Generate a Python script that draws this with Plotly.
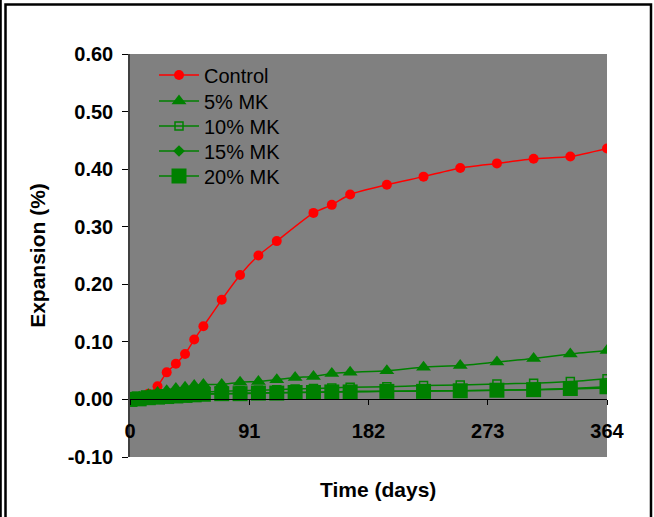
import plotly.graph_objects as go

# ---- data ----
t_control = [0, 7, 14, 21, 28, 35, 42, 49, 56, 70, 84, 98, 112, 140, 154, 168,
             196, 224, 252, 280, 308, 336, 364]
control = [0.000, 0.004, 0.010, 0.023, 0.047, 0.062, 0.079, 0.104, 0.127, 0.173,
           0.216, 0.250, 0.275, 0.324, 0.338, 0.356, 0.373, 0.387, 0.402, 0.410,
           0.418, 0.422, 0.436]

t_mk = [0, 7, 14, 21, 28, 35, 42, 49, 56, 70, 84, 98, 112, 126, 140, 154, 168,
        196, 224, 252, 280, 308, 336, 364]
mk5 = [0.000, 0.004, 0.008, 0.012, 0.015, 0.019, 0.021, 0.024, 0.026, 0.026,
       0.030, 0.031, 0.034, 0.038, 0.040, 0.045, 0.047, 0.050, 0.056, 0.059,
       0.065, 0.071, 0.079, 0.085]
mk10 = [0.000, 0.003, 0.005, 0.007, 0.008, 0.010, 0.011, 0.012, 0.013, 0.014,
        0.015, 0.016, 0.017, 0.018, 0.019, 0.020, 0.021, 0.022, 0.024, 0.025,
        0.027, 0.028, 0.031, 0.036]
mk15 = [0.000, 0.002, 0.004, 0.005, 0.006, 0.007, 0.008, 0.009, 0.010, 0.010,
        0.011, 0.011, 0.012, 0.012, 0.013, 0.013, 0.014, 0.014, 0.015, 0.015,
        0.016, 0.017, 0.018, 0.020]
mk20 = [0.000, 0.001, 0.003, 0.004, 0.005, 0.006, 0.007, 0.008, 0.009, 0.010,
        0.010, 0.011, 0.011, 0.012, 0.012, 0.013, 0.013, 0.014, 0.014, 0.015,
        0.016, 0.017, 0.019, 0.022]

x_ticks = [0, 91, 182, 273, 364]
y_ticks = [-0.10, 0.00, 0.10, 0.20, 0.30, 0.40, 0.50, 0.60]
y_ticktext = ["-0.10", "0.00", "0.10", "0.20", "0.30", "0.40", "0.50", "0.60"]
x_title = "Time (days)"
y_title = "Expansion (%)"

RED = "#ff0000"
GREEN = "#008000"
FONT = "Liberation Sans"

W, H = 654, 517
ML, MR, MT, MB = 130, 47, 54, 60
PW, PH = W - ML - MR, H - MT - MB


def px_x(p):
    return (p - ML) / PW


def px_y(p):
    return 1 - (p - MT) / PH


series = [
    ("Control", t_control, control, RED, dict(symbol="circle", size=10, color=RED)),
    ("5% MK", t_mk, mk5, GREEN, dict(symbol="triangle-up", size=13, color=GREEN)),
    ("10% MK", t_mk, mk10, GREEN, dict(symbol="square-open", size=8, color=GREEN,
                                       line=dict(width=1.5, color=GREEN))),
    ("15% MK", t_mk, mk15, GREEN, dict(symbol="diamond", size=9, color=GREEN)),
    ("20% MK", t_mk, mk20, GREEN, dict(symbol="square", size=15, color=GREEN)),
]
legend_rows = [75, 101, 126, 151, 176]  # legend row centres (px)

fig = go.Figure()
layout_legends = {}
for i, (name, xs, ys, col, mk) in enumerate(series):
    lname = "legend" if i == 0 else f"legend{i + 1}"
    fig.add_trace(go.Scatter(x=xs, y=ys, name=name, mode="lines+markers",
                             line=dict(color=col, width=1.5, shape="spline", smoothing=0.6),
                             marker=mk, legend=lname))
    layout_legends[lname] = dict(
        x=px_x(154), y=px_y(legend_rows[i]), xanchor="left", yanchor="middle",
        bgcolor="rgba(0,0,0,0)", borderwidth=0, itemwidth=40,
        font=dict(family=FONT, size=20, color="black"), itemsizing="trace")

zero_pos = (0 - y_ticks[0]) / (y_ticks[-1] - y_ticks[0])

fig.update_layout(
    width=W, height=H,
    margin=dict(l=ML, r=MR, t=MT, b=MB),
    paper_bgcolor="white",
    plot_bgcolor="#808080",
    font=dict(family=FONT, color="black"),
    showlegend=True,
    xaxis=dict(range=[0, 364], tickvals=x_ticks, ticktext=[str(v) for v in x_ticks],
               anchor="free", position=zero_pos,
               showline=True, linecolor="black", linewidth=1,
               ticks="outside", ticklen=5, tickcolor="black",
               ticklabelstandoff=9,
               showgrid=False, zeroline=False,
               tickfont=dict(family=FONT, size=20, weight="bold", color="black")),
    yaxis=dict(range=[y_ticks[0], y_ticks[-1]], tickvals=y_ticks, ticktext=y_ticktext,
               showline=True, linecolor="#404040", linewidth=1.5,
               ticks="outside", ticklen=6, tickcolor="black",
               ticklabelstandoff=5,
               showgrid=False, zeroline=False,
               tickfont=dict(family=FONT, size=20, weight="bold", color="black"),
               title=dict(text=y_title, standoff=16,
                          font=dict(family=FONT, size=21, weight="bold", color="black"))),
    **layout_legends,
)

# x-axis title (axis sits at y=0, so title placed below plot area)
fig.add_annotation(text=x_title, xref="paper", yref="paper",
                   x=px_x(378), y=px_y(489),
                   xanchor="center", yanchor="middle", showarrow=False,
                   font=dict(family=FONT, size=21, weight="bold", color="black"))

# figure frame (double line at left, frame around)
fig.add_shape(type="rect", xref="paper", yref="paper",
              x0=px_x(5.5), x1=px_x(651), y0=px_y(H + 10), y1=px_y(4.5),
              line=dict(color="black", width=2.5), fillcolor="rgba(0,0,0,0)", layer="above")
fig.add_shape(type="line", xref="paper", yref="paper",
              x0=px_x(0.8), x1=px_x(0.8), y0=px_y(H + 10), y1=px_y(-5),
              line=dict(color="black", width=2), layer="above")

fig.write_html("out.html")
